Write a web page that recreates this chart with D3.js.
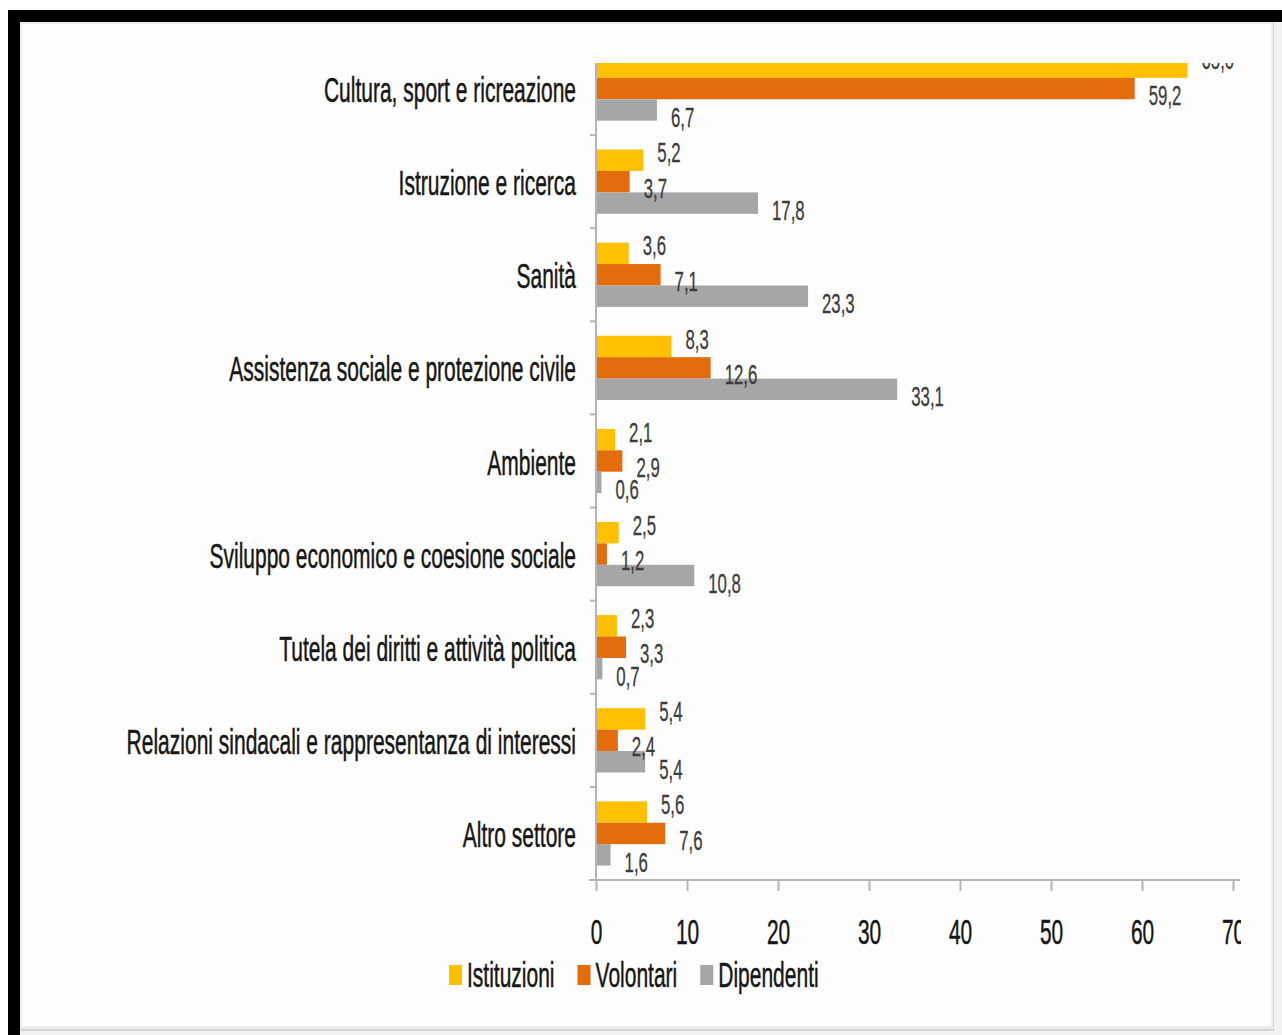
<!DOCTYPE html>
<html lang="it">
  <head>
    <meta charset="UTF-8" />
    <title>Settori di attività</title>
    <style>
      body { margin: 0; background: #ffffff; }
      svg { display: block; font-family: "Liberation Sans", Arial, sans-serif; }
      .cat-label { font-size: 35px; fill: #161616; stroke: #161616; stroke-width: 0.5; }
      .val-label { font-size: 28px; fill: #3c3c3c; stroke: #3c3c3c; stroke-width: 0.3; }
      .xaxis text { font-size: 36px; fill: #161616; stroke: #161616; stroke-width: 0.5; }
      .xaxis line, .axis-line { stroke: #b4b4b4; stroke-width: 2; }
      .legend text { font-size: 35px; fill: #161616; stroke: #161616; stroke-width: 0.5; }
    </style>
  </head>
  <body>
    <script src="https://cdn.jsdelivr.net/npm/d3@7"></script>
    <script>

    var categories = [
      "Cultura, sport e ricreazione",
      "Istruzione e ricerca",
      "Sanità",
      "Assistenza sociale e protezione civile",
      "Ambiente",
      "Sviluppo economico e coesione sociale",
      "Tutela dei diritti e attività politica",
      "Relazioni sindacali e rappresentanza di interessi",
      "Altro settore"
    ];
    var seriesNames = ["Istituzioni", "Volontari", "Dipendenti"];
    var istituzioni = [65.0, 5.2, 3.6, 8.3, 2.1, 2.5, 2.3, 5.4, 5.6];
    var volontari   = [59.2, 3.7, 7.1, 12.6, 2.9, 1.2, 3.3, 2.4, 7.6];
    var dipendenti  = [6.7, 17.8, 23.3, 33.1, 0.6, 10.8, 0.7, 5.4, 1.6];
    var xTicks = [0, 10, 20, 30, 40, 50, 60, 70];

    var colors = { "Istituzioni": "#ffc000", "Volontari": "#e46c0a", "Dipendenti": "#a6a6a6" };
    // labels sit a bit above/below the bar depending on series
    var labelShift = { "Istituzioni": -8, "Volontari": 6, "Dipendenti": 7 };
    var squeeze = 0.6;   // text in the picture is horizontally narrow

    var w = 1282, h = 1035;

    var rows = categories.map(function(c, i) {
      return { cat: c, values: [
        { key: "Istituzioni", value: istituzioni[i] },
        { key: "Volontari", value: volontari[i] },
        { key: "Dipendenti", value: dipendenti[i] }
      ]};
    });

    var fmt = d3.formatLocale({ decimal: ",", thousands: ".", grouping: [3], currency: ["", "€"] }).format(".1f");

    var svg = d3.select("body").append("svg")
      .attr("width", w)
      .attr("height", h);

    // screenshot frame
    svg.append("rect").attr("x", 8).attr("y", 10).attr("width", w - 8).attr("height", h - 10).attr("fill", "#000");
    svg.append("rect").attr("x", 20).attr("y", 22).attr("width", w - 20).attr("height", h - 22).attr("fill", "#f2f2f2");
    svg.append("rect").attr("x", 20).attr("y", 22).attr("width", 1254).attr("height", 1009).attr("fill", "#d4d4d4");
    svg.append("rect").attr("x", 20).attr("y", 22).attr("width", 1253).attr("height", 1007).attr("fill", "#ececec");
    svg.append("rect").attr("x", 22).attr("y", 24).attr("width", 1249).attr("height", 1002).attr("fill", "#fdfdfd");

    svg.append("clipPath").attr("id", "crop")
      .append("rect").attr("x", 0).attr("y", 63).attr("width", 1241).attr("height", 1000);

    var g = svg.append("g").attr("clip-path", "url(#crop)");

    var xScale = d3.scaleLinear()
      .domain([0, 70])
      .range([596, 1233]);

    var yScale = d3.scaleBand()
      .domain(categories)
      .range([42, 880])
      .paddingInner(0.31)
      .paddingOuter(0.155);

    var ySub = d3.scaleBand()
      .domain(seriesNames)
      .range([0, yScale.bandwidth()]);

    // bars
    var groups = g.selectAll(".group")
      .data(rows)
      .enter().append("g")
      .attr("class", "group")
      .attr("transform", function(d) { return "translate(0," + yScale(d.cat) + ")"; });

    groups.selectAll("rect")
      .data(function(d) { return d.values; })
      .enter().append("rect")
      .attr("x", xScale(0))
      .attr("y", function(d) { return ySub(d.key); })
      .attr("width", function(d) { return xScale(d.value) - xScale(0); })
      .attr("height", ySub.bandwidth())
      .attr("fill", function(d) { return colors[d.key]; });

    // value labels
    groups.selectAll(".val-label")
      .data(function(d) { return d.values; })
      .enter().append("text")
      .attr("class", "val-label")
      .attr("dy", "0.36em")
      .attr("transform", function(d) {
        var cy = ySub(d.key) + ySub.bandwidth() / 2 + labelShift[d.key];
        return "translate(" + (xScale(d.value) + 14) + "," + cy + ") scale(" + squeeze + ",1)";
      })
      .text(function(d) { return fmt(d.value); });

    // x axis
    var xAxis = d3.axisBottom(xScale)
      .tickValues(xTicks)
      .tickSize(11)
      .tickSizeOuter(0);

    var xg = g.append("g")
      .attr("class", "xaxis")
      .attr("transform", "translate(0,880)")
      .call(xAxis);
    xg.select(".domain").remove();
    xg.selectAll("text")
      .attr("y", 64)
      .attr("dy", 0)
      .attr("transform", "scale(0.58,1)");

    g.append("line").attr("class", "axis-line")
      .attr("x1", 589).attr("x2", 1240)
      .attr("y1", 880).attr("y2", 880);

    // category axis
    g.append("line").attr("class", "axis-line")
      .attr("x1", xScale(0)).attr("x2", xScale(0))
      .attr("y1", yScale.range()[0]).attr("y2", yScale.range()[1]);

    g.selectAll(".cat-tick")
      .data(categories)
      .enter().append("line")
      .attr("class", "axis-line")
      .attr("x1", xScale(0) - 6).attr("x2", xScale(0))
      .attr("y1", function(d) { return yScale(d) + yScale.bandwidth() + (yScale.step() - yScale.bandwidth()) / 2; })
      .attr("y2", function(d) { return yScale(d) + yScale.bandwidth() + (yScale.step() - yScale.bandwidth()) / 2; });

    g.selectAll(".cat-label")
      .data(categories)
      .enter().append("text")
      .attr("class", "cat-label")
      .attr("text-anchor", "end")
      .attr("dy", "0.36em")
      .attr("transform", function(d) {
        return "translate(576," + (yScale(d) + yScale.bandwidth() / 2 + 1) + ") scale(" + squeeze + ",1)";
      })
      .text(function(d) { return d; });

    // legend
    var legend = svg.append("g").attr("class", "legend");
    var lx = 449;
    seriesNames.forEach(function(name) {
      legend.append("rect")
        .attr("x", lx).attr("y", 965)
        .attr("width", 13).attr("height", 20)
        .attr("fill", colors[name]);
      var t = legend.append("text")
        .attr("dy", "0.36em")
        .attr("transform", "translate(" + (lx + 18) + ",974) scale(" + squeeze + ",1)")
        .text(name);
      lx = lx + 18 + t.node().getComputedTextLength() * squeeze + 23;
    });

    </script>
  </body>
</html>
